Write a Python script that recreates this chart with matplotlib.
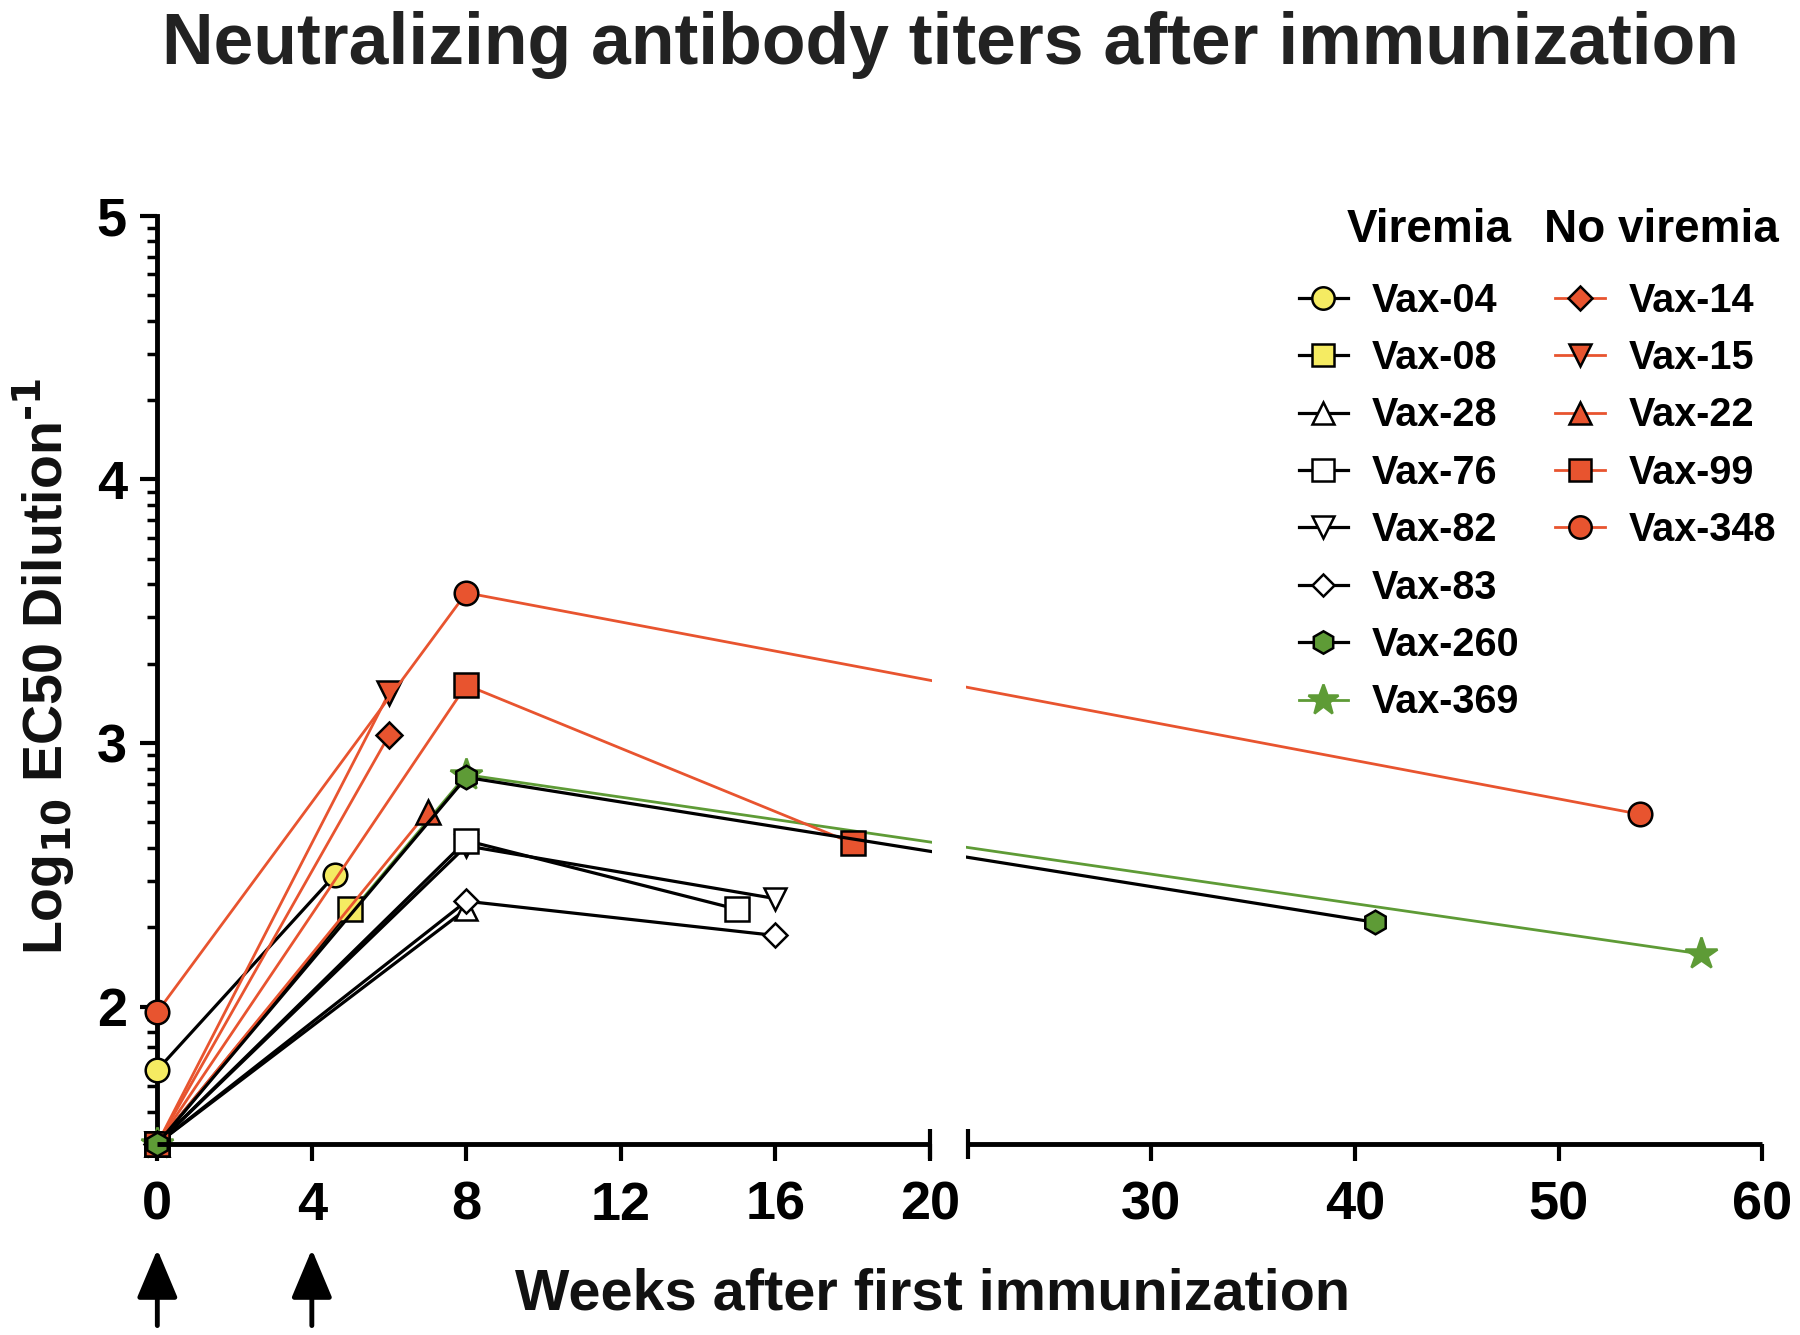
import numpy as np
import matplotlib
matplotlib.use("Agg")
from matplotlib import pyplot as plt
from matplotlib.lines import Line2D
from matplotlib.ticker import FixedLocator

plt.rcParams['font.family'] = ['Liberation Sans', 'DejaVu Sans']
plt.rcParams['font.weight'] = 'bold'
plt.rcParams['mathtext.default'] = 'bf'

# values (weeks, log10 EC50)
weeks_vax04 = [0, 4.6]
titer_vax04 = [1.76, 2.50]
weeks_vax08 = [0, 5]
titer_vax08 = [1.48, 2.37]
weeks_vax28 = [0, 8]
titer_vax28 = [1.48, 2.37]
weeks_vax76 = [0, 8, 15]
titer_vax76 = [1.48, 2.63, 2.37]
weeks_vax82 = [0, 8, 16]
titer_vax82 = [1.48, 2.61, 2.41]
weeks_vax83 = [0, 8, 16]
titer_vax83 = [1.48, 2.40, 2.27]
weeks_vax260 = [0, 8, 41]
titer_vax260 = [1.48, 2.87, 2.32]
weeks_vax369 = [0, 8, 57]
titer_vax369 = [1.48, 2.88, 2.20]

weeks_vax14 = [0, 6]
titer_vax14 = [1.48, 3.03]
weeks_vax15 = [0, 6]
titer_vax15 = [1.48, 3.19]
weeks_vax22 = [0, 7]
titer_vax22 = [1.48, 2.74]
weeks_vax99 = [0, 8, 18]
titer_vax99 = [1.48, 3.22, 2.62]
weeks_vax348 = [0, 8, 54]
titer_vax348 = [1.98, 3.57, 2.73]

x_ticks = [0, 4, 8, 12, 16, 20, 30, 40, 50, 60]
y_ticks = [2, 3, 4, 5]

YELLOW = '#f5eb62'
ORANGE = '#e8542f'
GREEN = '#5e9b36'

# broken x axis: 0-20 wide, 21-60 compressed
knots_x = [-10, 0, 20, 21, 60, 100]
knots_u = [-336.5, 0, 673, 706, 1398, 2108]


def fwd(x):
    return np.interp(x, knots_x, knots_u)


def inv(u):
    return np.interp(u, knots_u, knots_x)


fig = plt.figure(figsize=(18, 13.35), dpi=100)
ax = fig.add_axes([0.0874, 0.1427, 0.8916, 0.6956])
ax.set_xscale('function', functions=(fwd, inv))
ax.set_xlim(0, 60)
y_min = np.log10(30)
ax.set_ylim(y_min, 5)

# (name, weeks, titers, marker, face, line color, size)
viremia = [
    ('Vax-04', weeks_vax04, titer_vax04, 'o', YELLOW, 'black', 17),
    ('Vax-08', weeks_vax08, titer_vax08, 's', YELLOW, 'black', 17),
    ('Vax-28', weeks_vax28, titer_vax28, '^', 'white', 'black', 16),
    ('Vax-76', weeks_vax76, titer_vax76, 's', 'white', 'black', 17),
    ('Vax-82', weeks_vax82, titer_vax82, 'v', 'white', 'black', 16),
    ('Vax-83', weeks_vax83, titer_vax83, 'D', 'white', 'black', 12),
    ('Vax-260', weeks_vax260, titer_vax260, 'h', GREEN, 'black', 17),
    ('Vax-369', weeks_vax369, titer_vax369, '*', GREEN, GREEN, 24),
]
no_viremia = [
    ('Vax-14', weeks_vax14, titer_vax14, 'D', ORANGE, ORANGE, 13),
    ('Vax-15', weeks_vax15, titer_vax15, 'v', ORANGE, ORANGE, 17),
    ('Vax-22', weeks_vax22, titer_vax22, '^', ORANGE, ORANGE, 17),
    ('Vax-99', weeks_vax99, titer_vax99, 's', ORANGE, ORANGE, 17),
    ('Vax-348', weeks_vax348, titer_vax348, 'o', ORANGE, ORANGE, 17),
]

draw_order = [viremia[7], viremia[2], viremia[5], viremia[4], viremia[3],
              viremia[0], viremia[1]] + no_viremia + [viremia[6]]


def style(marker, face, lcol, size):
    edge = GREEN if marker == '*' else 'black'
    lw = 2.3 if lcol == 'black' else 2.0
    return dict(marker=marker, markerfacecolor=face, markeredgecolor=edge,
                markersize=size, markeredgewidth=1.8, color=lcol, lw=lw)


for name, wk, ti, m, fc, lc, ms in draw_order:
    kw = style(m, fc, lc, ms)
    ax.plot(wk, ti, clip_on=False, zorder=3, solid_capstyle='butt', **kw)

# white gap where data lines cross the break
ax.axvspan(20.06, 20.94, color='white', zorder=3.5, lw=0)

# axes styling
for s in ['top', 'right', 'bottom']:
    ax.spines[s].set_visible(False)
ax.spines['left'].set_linewidth(3.5)
xa = ax.get_xaxis_transform()
ax.plot([0, 20], [0, 0], transform=xa, color='black', lw=3.5, clip_on=False,
        zorder=4, solid_capstyle='butt')
ax.plot([21, 60], [0, 0], transform=xa, color='black', lw=3.5, clip_on=False,
        zorder=4, solid_capstyle='butt')
ax.plot([20, 21], [0, 0], transform=xa, ls='none', marker='|', markersize=22,
        markeredgewidth=3, color='black', clip_on=False, zorder=4)

ax.set_xticks(x_ticks)
ax.set_xticklabels([str(t) for t in x_ticks])
ax.xaxis.set_minor_locator(FixedLocator([]))
ax.set_yticks(y_ticks)
minor_y = [n + np.log10(k) for n in [1, 2, 3, 4] for k in range(2, 10)]
ax.yaxis.set_minor_locator(FixedLocator([v for v in minor_y if v > y_min]))
ax.tick_params(axis='both', which='major', direction='out', length=12,
               width=3, labelsize=39, pad=10)
ax.tick_params(axis='y', which='minor', direction='out', length=7, width=2.5)
ax.tick_params(axis='x', pad=14)

# immunization arrows
for wk in [0, 4]:
    ax.annotate('', xy=(wk, -0.113), xytext=(wk, -0.195),
                xycoords=('data', 'axes fraction'),
                arrowprops=dict(arrowstyle='-|>,head_length=1.0,head_width=0.42',
                                mutation_scale=30, lw=3.5, color='black',
                                shrinkA=0, shrinkB=0))

fig.text(0.528, 0.966, 'Neutralizing antibody titers after immunization',
         ha='center', va='center', fontsize=51.5, fontweight='bold', color='#222222')
fig.text(0.518, 0.030, 'Weeks after first immunization', ha='center',
         va='center', fontsize=41.5, fontweight='bold', color='#111111')
fig.text(0.024, 0.501, r'Log$_{10}$ EC50 Dilution$^{\text{-}1}$',
         ha='center', va='center', rotation=90, fontsize=40,
         fontweight='bold', color='#111111')


# legends
def handles(group):
    out = []
    for name, wk, ti, m, fc, lc, ms in group:
        kw = style(m, fc, lc, ms * 0.95)
        out.append(Line2D([], [], **kw))
    return out


leg_kw = dict(frameon=False, fontsize=28.5, handlelength=1.25,
              handletextpad=0.6, labelspacing=0.49, borderpad=0,
              borderaxespad=0, loc='upper left')
leg1 = fig.legend(handles(viremia), [v[0] for v in viremia],
                  bbox_to_anchor=(0.7215, 0.789), **leg_kw)
leg2 = fig.legend(handles(no_viremia), [v[0] for v in no_viremia],
                  bbox_to_anchor=(0.864, 0.789), **leg_kw)
fig.text(0.794, 0.828, 'Viremia', ha='center', va='center', fontsize=33,
         fontweight='bold')
fig.text(0.923, 0.828, 'No viremia', ha='center', va='center', fontsize=33,
         fontweight='bold')

fig.savefig('out.png', dpi=100)
